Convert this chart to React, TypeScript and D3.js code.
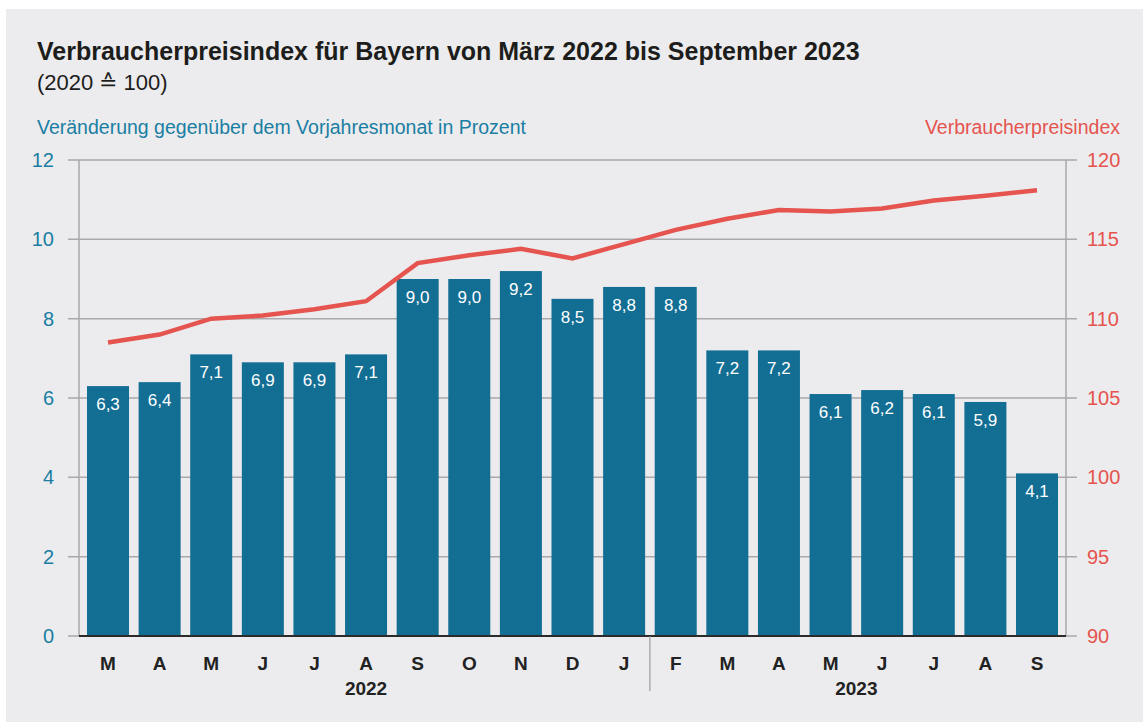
import { useEffect, useRef } from 'react'
import * as d3 from 'd3'

const months = ['M', 'A', 'M', 'J', 'J', 'A', 'S', 'O', 'N', 'D', 'J', 'F', 'M', 'A', 'M', 'J', 'J', 'A', 'S']
const changePct = [6.3, 6.4, 7.1, 6.9, 6.9, 7.1, 9.0, 9.0, 9.2, 8.5, 8.8, 8.8, 7.2, 7.2, 6.1, 6.2, 6.1, 5.9, 4.1]
const priceIndex = [108.5, 109.0, 110.0, 110.2, 110.6, 111.1, 113.5, 114.0, 114.4, 113.8, 114.7, 115.6, 116.3, 116.85, 116.75, 116.95, 117.45, 117.75, 118.1]
const years = [
  { label: '2022', from: 0, to: 10 },
  { label: '2023', from: 11, to: 18 },
]
const leftTicks = [0, 2, 4, 6, 8, 10, 12]
const rightTicks = [90, 95, 100, 105, 110, 115, 120]

const W = 1143
const H = 722
const FONT = '"Liberation Sans", Arial, Helvetica, sans-serif'
const BLUE = '#136e94'
const RED = '#e5544e'
const TEAL = '#1a7ea3'

const App = () => {
  const svgRef = useRef<SVGSVGElement | null>(null)

  useEffect(() => {
    const svg = d3.select(svgRef.current)
    svg.selectAll('*').remove()

    const left = 79
    const right = 1066
    const top = 160
    const bottom = 636

    svg.append('rect').attr('x', 6).attr('y', 9).attr('width', W - 6).attr('height', H - 9).attr('fill', '#ececee')

    // titles
    svg.append('text').attr('x', 37).attr('y', 60).attr('font-family', FONT).attr('font-weight', 700)
      .attr('font-size', 25).attr('fill', '#1d1d1b').text('Verbraucherpreisindex für Bayern von März 2022 bis September 2023')
    svg.append('text').attr('x', 37).attr('y', 90).attr('font-family', FONT)
      .attr('font-size', 22).attr('fill', '#1d1d1b').text('(2020 ≙ 100)')
    svg.append('text').attr('x', 37).attr('y', 134).attr('font-family', FONT)
      .attr('font-size', 19.5).attr('fill', TEAL).text('Veränderung gegenüber dem Vorjahresmonat in Prozent')
    svg.append('text').attr('x', 1120).attr('y', 134).attr('font-family', FONT).attr('text-anchor', 'end')
      .attr('font-size', 19.5).attr('fill', RED).text('Verbraucherpreisindex')

    const x = d3.scaleBand<number>().domain(d3.range(months.length)).range([left, right])
      .paddingInner(0.186).paddingOuter(0.155)
    const yL = d3.scaleLinear().domain([0, 12]).range([bottom, top])
    const yR = d3.scaleLinear().domain([90, 120]).range([bottom, top])

    // gridlines with ticks on both sides
    svg.append('g').selectAll('line').data(leftTicks.slice(1)).join('line')
      .attr('x1', left - 11).attr('x2', right + 11)
      .attr('y1', (d) => yL(d)).attr('y2', (d) => yL(d))
      .attr('stroke', '#a9a9ab').attr('stroke-width', 1.5)
    svg.append('line').attr('x1', left - 11).attr('x2', left).attr('y1', bottom).attr('y2', bottom)
      .attr('stroke', '#a9a9ab').attr('stroke-width', 1.5)
    svg.append('line').attr('x1', right).attr('x2', right + 11).attr('y1', bottom).attr('y2', bottom)
      .attr('stroke', '#a9a9ab').attr('stroke-width', 1.5)

    // vertical axes
    svg.append('line').attr('x1', left).attr('x2', left).attr('y1', top).attr('y2', bottom)
      .attr('stroke', '#a9a9ab').attr('stroke-width', 1.5)
    svg.append('line').attr('x1', right).attr('x2', right).attr('y1', top).attr('y2', bottom)
      .attr('stroke', '#a9a9ab').attr('stroke-width', 1.5)

    // tick labels
    svg.append('g').selectAll('text').data(leftTicks).join('text')
      .attr('x', 54).attr('y', (d) => yL(d)).attr('dy', '0.35em').attr('text-anchor', 'end')
      .attr('font-family', FONT).attr('font-size', 20).attr('fill', TEAL).text((d) => d)
    svg.append('g').selectAll('text').data(rightTicks).join('text')
      .attr('x', 1087).attr('y', (d) => yR(d)).attr('dy', '0.35em')
      .attr('font-family', FONT).attr('font-size', 20).attr('fill', RED).text((d) => d)

    // bars
    svg.append('g').selectAll('rect').data(changePct).join('rect')
      .attr('x', (d, i) => x(i)!).attr('width', x.bandwidth())
      .attr('y', (d) => yL(d)).attr('height', (d) => bottom - yL(d))
      .attr('fill', BLUE)
    svg.append('g').selectAll('text').data(changePct).join('text')
      .attr('x', (d, i) => x(i)! + x.bandwidth() / 2).attr('y', (d) => yL(d) + 24)
      .attr('text-anchor', 'middle').attr('font-family', FONT).attr('font-size', 17).attr('fill', '#fff')
      .text((d) => d.toFixed(1).replace('.', ','))

    // baseline
    svg.append('line').attr('x1', left).attr('x2', right).attr('y1', bottom).attr('y2', bottom)
      .attr('stroke', '#2b2b2b').attr('stroke-width', 2)

    // index line
    const line = d3.line<number>().x((d, i) => x(i)! + x.bandwidth() / 2).y((d) => yR(d))
    svg.append('path').datum(priceIndex).attr('d', line).attr('fill', 'none')
      .attr('stroke', RED).attr('stroke-width', 4.5).attr('stroke-linejoin', 'miter')

    // month labels
    svg.append('g').selectAll('text').data(months).join('text')
      .attr('x', (d, i) => x(i)! + x.bandwidth() / 2).attr('y', 670)
      .attr('text-anchor', 'middle').attr('font-family', FONT).attr('font-weight', 700)
      .attr('font-size', 19).attr('fill', '#222').text((d) => d)

    // year labels
    svg.append('g').selectAll('text').data(years).join('text')
      .attr('x', (d) => (x(d.from)! + x(d.to)! + x.bandwidth()) / 2).attr('y', 695)
      .attr('text-anchor', 'middle').attr('font-family', FONT).attr('font-weight', 700)
      .attr('font-size', 19).attr('fill', '#222').text((d) => d.label)

    // year separator
    const sepX = (x(10)! + x.bandwidth() + x(11)!) / 2
    svg.append('line').attr('x1', sepX).attr('x2', sepX).attr('y1', bottom).attr('y2', 691)
      .attr('stroke', '#8d8d8f').attr('stroke-width', 1)
  }, [])

  return (
    <svg ref={svgRef} width={W} height={H} style={{ position: 'absolute', left: 0, top: 0, background: '#fff' }} />
  )
}

export default App
